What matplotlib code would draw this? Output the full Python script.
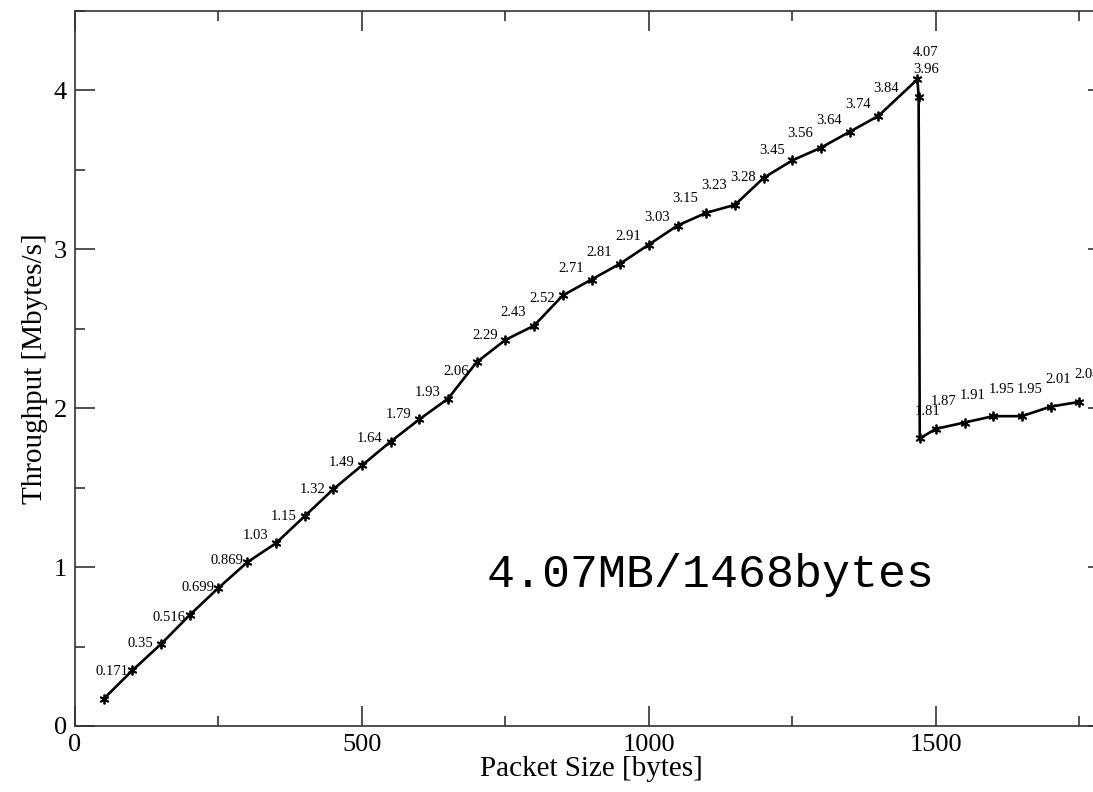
import numpy as np
import matplotlib
matplotlib.use("Agg")
import matplotlib.pyplot as plt
from matplotlib.ticker import MultipleLocator

# packet size [bytes] vs throughput [Mbytes/s]
sizes = [50, 100, 150, 200, 250, 300, 350, 400, 450, 500,
         550, 600, 650, 700, 750, 800, 850, 900, 950, 1000,
         1050, 1100, 1150, 1200, 1250, 1300, 1350, 1400, 1468, 1470,
         1472, 1500, 1550, 1600, 1650, 1700, 1750]
throughput = [0.171, 0.35, 0.516, 0.699, 0.869, 1.03, 1.15, 1.32, 1.49, 1.64,
              1.79, 1.93, 2.06, 2.29, 2.43, 2.52, 2.71, 2.81, 2.91, 3.03,
              3.15, 3.23, 3.28, 3.45, 3.56, 3.64, 3.74, 3.84, 4.07, 3.96,
              1.81, 1.87, 1.91, 1.95, 1.95, 2.01, 2.04]
labels = ["0.171", "0.35", "0.516", "0.699", "0.869", "1.03", "1.15", "1.32", "1.49", "1.64",
          "1.79", "1.93", "2.06", "2.29", "2.43", "2.52", "2.71", "2.81", "2.91", "3.03",
          "3.15", "3.23", "3.28", "3.45", "3.56", "3.64", "3.74", "3.84", "4.07", "3.96",
          "1.81", "1.87", "1.91", "1.95", "1.95", "2.01", "2.04"]

serif = ["Liberation Serif", "DejaVu Serif"]

fig = plt.figure(figsize=(10.93, 7.92), dpi=100)
# right spine sits just outside the picture, like the cropped original
ax = fig.add_axes([75 / 1093, 66 / 792, (1108 - 75) / 1093, (726 - 11) / 792])

ax.plot(sizes, throughput, color="black", lw=1.9, marker=(6, 2, 0), ms=7, mew=1.3)

for x, y, s in zip(sizes, throughput, labels):
    ax.annotate(s, (x, y), xytext=(8, 27), textcoords="offset pixels",
                ha="center", va="center", fontsize=10.5, family=serif)

ax.text(718, 0.874, "4.07MB/1468bytes", family=["Liberation Mono", "DejaVu Sans Mono"],
        fontsize=33.6, ha="left", va="baseline")

ax.set_xlim(0, 1800)
ax.set_ylim(0, 4.5)
ax.xaxis.set_major_locator(MultipleLocator(500))
ax.xaxis.set_minor_locator(MultipleLocator(250))
ax.yaxis.set_major_locator(MultipleLocator(1))
ax.yaxis.set_minor_locator(MultipleLocator(0.5))
ax.tick_params(which="both", direction="in", top=True, right=True, color="#333333", width=1.2)
ax.tick_params(which="major", length=14.5, labelsize=19, pad=6)
ax.tick_params(which="minor", length=7.2)
for lab in ax.get_xticklabels() + ax.get_yticklabels():
    lab.set_family(serif)
for sp in ax.spines.values():
    sp.set_color("#333333")
    sp.set_linewidth(1.2)

ax.set_xlabel("Packet Size [bytes]", family=serif, fontsize=21, labelpad=0)
ax.set_ylabel("Throughput [Mbytes/s]", family=serif, fontsize=21, labelpad=4)

fig.savefig("out.png", dpi=100)
